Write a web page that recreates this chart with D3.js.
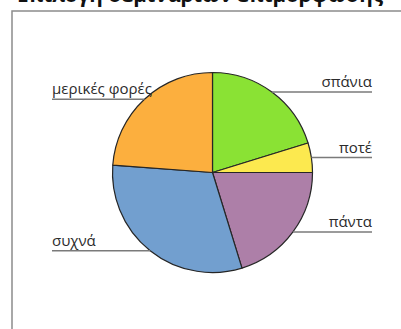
<!DOCTYPE html>
<html>
<head>
<meta charset="utf-8">
<script src="https://cdn.jsdelivr.net/npm/d3@7"></script>
<style>
  html, body { margin: 0; padding: 0; background: #fff; }
  svg { display: block; }
</style>
</head>
<body>
<script>
// Survey answers: how often training seminars are chosen
const title = "Επιλογή σεμιναρίων επιμόρφωσης";
const categories = ["σπάνια", "ποτέ", "πάντα", "συχνά", "μερικές φορές"];
const counts = [17, 4, 17, 26, 20];
const colors = ["#8ae234", "#fce94f", "#ad7fa8", "#729fcf", "#fcaf3e"];

const W = 401, H = 329;
const cx = 212.5, cy = 172.5, R = 100;
const labelRightX = 372, labelLeftX = 52;

const svg = d3.select("body").append("svg")
  .attr("width", W).attr("height", H);

// chart frame
svg.append("rect")
  .attr("x", 12).attr("y", 11)
  .attr("width", 420).attr("height", 340)
  .attr("fill", "none")
  .attr("stroke", "#8c8c8c")
  .attr("stroke-width", 1.5);

// title
svg.append("text")
  .attr("x", 17).attr("y", 2)
  .attr("textLength", 366)
  .attr("lengthAdjust", "spacingAndGlyphs")
  .attr("font-family", "'Open Sans', sans-serif")
  .attr("font-weight", "bold")
  .attr("font-size", 21)
  .attr("fill", "#111")
  .text(title);

const data = categories.map((c, i) => ({ cat: c, value: counts[i], color: colors[i] }));
const pie = d3.pie().sort(null).value(d => d.value);
const arcs = pie(data);
const arc = d3.arc().innerRadius(0).outerRadius(R);

const g = svg.append("g").attr("transform", `translate(${cx},${cy})`);

g.selectAll("path.slice")
  .data(arcs)
  .join("path")
  .attr("class", "slice")
  .attr("d", arc)
  .attr("fill", d => d.data.color)
  .attr("stroke", "#262626")
  .attr("stroke-width", 1.2)
  .attr("stroke-linejoin", "round");

// leader lines from the slice mid-angle on the rim, out to the label
arcs.forEach(d => {
  const a = (d.startAngle + d.endAngle) / 2;
  const px = R * Math.sin(a), py = -R * Math.cos(a);
  const right = px >= 0;
  const endX = (right ? labelRightX : labelLeftX) - cx;

  g.append("line")
    .attr("x1", px).attr("y1", py)
    .attr("x2", endX).attr("y2", py)
    .attr("stroke", "#7a7a7a")
    .attr("stroke-width", 1.5);

  g.append("text")
    .attr("x", endX)
    .attr("y", py - 5)
    .attr("text-anchor", right ? "end" : "start")
    .attr("font-family", "'Open Sans', sans-serif")
    .attr("font-size", 15)
    .attr("fill", "#2b2b2b")
    .text(d.data.cat);
});
</script>
</body>
</html>
